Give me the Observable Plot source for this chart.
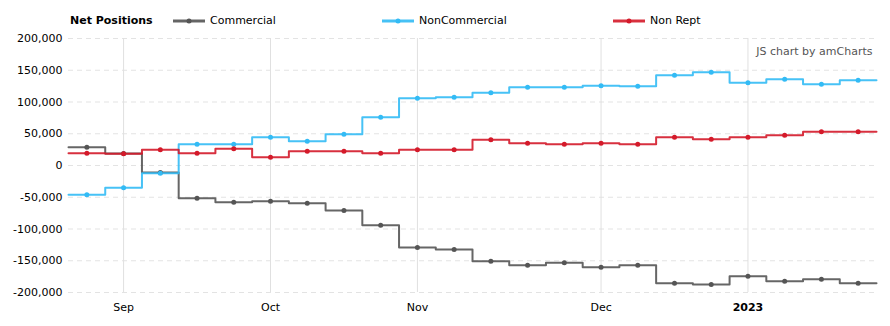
<!DOCTYPE html>
<html><head><meta charset="utf-8">
<script src="https://cdn.jsdelivr.net/npm/d3@7"></script>
<script src="https://cdn.jsdelivr.net/npm/@observablehq/plot@0.6"></script>
<style>
body{margin:0;background:#fff;font-family:"DejaVu Sans",Verdana,sans-serif;}
#legend{position:relative;width:890px;height:30px;font-size:11px;color:#000;}
#legend .t{position:absolute;top:14px;line-height:14px;white-space:nowrap;}
#legend svg{position:absolute;top:17px;}
</style></head>
<body>
<div id="legend"></div>
<div id="chart"></div>
<script>
const dates = ["2022-08-30","2022-09-06","2022-09-13","2022-09-20","2022-09-27","2022-10-04","2022-10-11","2022-10-18","2022-10-25","2022-11-01","2022-11-08","2022-11-15","2022-11-22","2022-11-29","2022-12-06","2022-12-13","2022-12-20","2022-12-27","2023-01-03","2023-01-10","2023-01-17","2023-01-24"];
const commercial = [28800,18900,-11000,-51400,-57700,-56200,-59300,-70900,-94000,-129100,-132300,-150700,-156900,-153300,-160100,-156900,-185300,-187400,-174300,-182200,-179000,-185300];
const nonCommercial = [-46200,-35200,-12100,33600,33600,44600,38300,49300,76100,106000,107600,114400,123300,123300,125500,124900,142200,146900,130200,135900,128000,134300];
const nonRept = [19400,18400,24700,19400,26200,13100,22600,22600,19400,24700,24700,40400,35200,33600,35200,33600,44600,41500,44600,47700,53000,53000];
const seriesNames = ["Commercial","NonCommercial","Non Rept"];
const seriesColors = ["#555555","#33bbf5","#d41a2a"];
const yTicks = [-200000,-150000,-100000,-50000,0,50000,100000,150000,200000];
const monthNames = ["Jan","Feb","Mar","Apr","May","Jun","Jul","Aug","Sep","Oct","Nov","Dec"];

// Legend
const legend = document.getElementById("legend");
const legendPos = [173, 382, 613];
legend.innerHTML = `<div class="t" style="left:70px;font-weight:bold">Net Positions</div>` +
  seriesNames.map((n,k)=>`<svg width="34" height="8" style="left:${legendPos[k]}px"><line x1="0" x2="32" y1="4" y2="4" stroke="${seriesColors[k]}" stroke-width="3" opacity="0.9"/><circle cx="16" cy="4" r="2.5" fill="${seriesColors[k]}"/></svg><div class="t" style="left:${legendPos[k]+37}px">${n}</div>`).join("");

// Data tables
const allSeries = [commercial, nonCommercial, nonRept];
const steps = [], points = [];
allSeries.forEach((vals, k) => {
  vals.forEach((v, i) => {
    steps.push({s: seriesNames[k], x: i - 0.5, y: v});
    steps.push({s: seriesNames[k], x: i + 0.5, y: v});
    points.push({s: seriesNames[k], x: i, y: v});
  });
});
const parsed = dates.map(d => new Date(d + "T00:00:00"));
const xTicks = [];
parsed.forEach((d, i) => {
  if (i > 0 && d.getMonth() !== parsed[i-1].getMonth()) {
    const isYear = d.getMonth() === 0;
    xTicks.push({x: i, label: isYear ? String(d.getFullYear()) : monthNames[d.getMonth()], bold: isYear});
  }
});
const fmt = d => d3.format(",")(d).replace("\u2212", "-");
const color = {domain: seriesNames, range: seriesColors};

const chart = Plot.plot({
  width: 890, height: 296,
  marginTop: 8, marginBottom: 34, marginLeft: 68, marginRight: 14,
  style: {fontFamily: "DejaVu Sans, Verdana, sans-serif", fontSize: "11px", color: "#000", background: "#fff"},
  x: {domain: [-0.5, dates.length - 0.5], axis: null},
  y: {domain: [-200000, 200000], axis: null},
  color,
  marks: [
    Plot.ruleY(yTicks, {stroke: "#e3e3e3", strokeDasharray: "5,4", strokeWidth: 1}),
    Plot.ruleX(xTicks, {x: "x", stroke: "#e0e0e0", strokeWidth: 1}),
    Plot.axisY({ticks: yTicks, tickSize: 0, tickPadding: 6, tickFormat: fmt, label: null, fontSize: 11}),
    Plot.text(xTicks.filter(t => !t.bold), {x: "x", text: "label", frameAnchor: "bottom", dy: 15, lineAnchor: "middle", fill: "#000"}),
    Plot.text(xTicks.filter(t => t.bold), {x: "x", text: "label", frameAnchor: "bottom", dy: 15, lineAnchor: "middle", fill: "#000", fontWeight: "bold"}),
    Plot.text(["JS chart by amCharts"], {frameAnchor: "top-right", dx: -4, dy: 13, lineAnchor: "middle", fill: "#555", fontSize: 11}),
    Plot.line(steps, {x: "x", y: "y", z: "s", stroke: "s", strokeWidth: 2, strokeOpacity: 0.9}),
    Plot.dot(points, {x: "x", y: "y", fill: "s", r: 2.5})
  ]
});
document.getElementById("chart").appendChild(chart);
</script>
</body></html>
